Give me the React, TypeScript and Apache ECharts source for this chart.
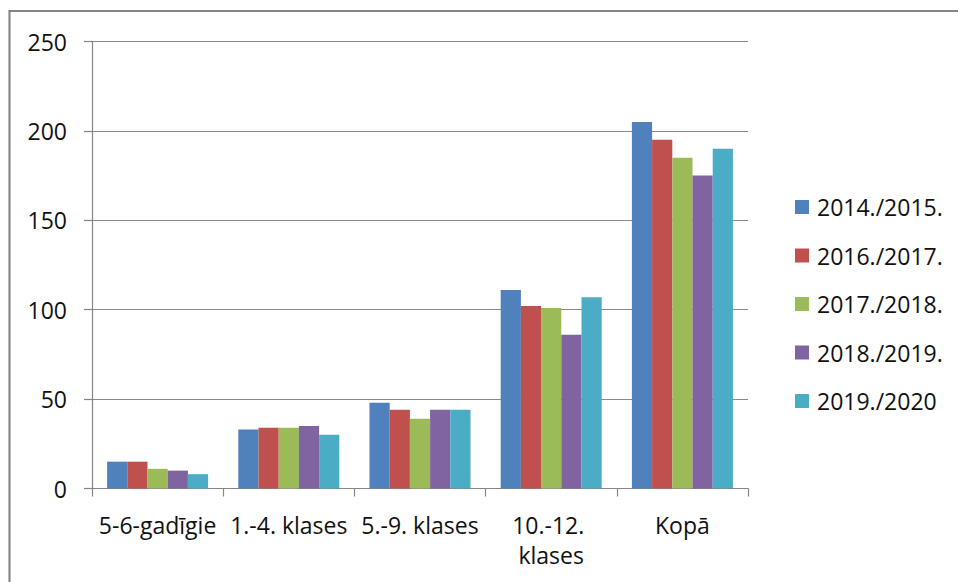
import React, { useEffect, useRef } from "react";
import * as echarts from "echarts";

const categories = ["5-6-gadīgie", "1.-4. klases", "5.-9. klases", "10.-12. klases", "Kopā"];
const seriesNames = ["2014./2015.", "2016./2017.", "2017./2018.", "2018./2019.", "2019./2020"];
const s2014 = [15, 33, 48, 111, 205];
const s2016 = [15, 34, 44, 102, 195];
const s2017 = [11, 34, 39, 101, 185];
const s2018 = [10, 35, 44, 86, 175];
const s2019 = [8, 30, 44, 107, 190];
const colors = ["#4F81BD", "#C0504D", "#9BBB59", "#8064A2", "#4BACC6"];
const yTicks = { min: 0, max: 250, interval: 50 };

export default function App() {
  const ref = useRef<HTMLDivElement>(null);
  useEffect(() => {
    if (!ref.current) return;
    const chart = echarts.init(ref.current, null, { renderer: "svg" });
    const data = [s2014, s2016, s2017, s2018, s2019];
    const font = "'Open Sans', 'Noto Sans', sans-serif";
    chart.setOption({
      animation: false,
      backgroundColor: "#ffffff",
      graphic: [
        {
          type: "rect",
          shape: { x: 9.5, y: 11, width: 2000, height: 2000 },
          style: { fill: "none", stroke: "#868686", lineWidth: 2.2 },
          silent: true,
        },
      ],
      grid: { left: 92, right: 210, top: 41.5, bottom: 93.5, containLabel: false },
      legend: {
        orient: "vertical",
        left: 790,
        top: 188,
        itemWidth: 14,
        itemHeight: 14,
        itemGap: 20.5,
        icon: "rect",
        textStyle: {
          fontFamily: font,
          fontSize: 23,
          color: "#111",
          lineHeight: 28,
          padding: [0, 0, 0, 3],
        },
        data: seriesNames,
      },
      xAxis: {
        type: "category",
        data: categories,
        axisLine: { show: true, lineStyle: { color: "#868686", width: 1.2 } },
        axisTick: { show: true, length: 8, lineStyle: { color: "#868686", width: 1.2 } },
        axisLabel: {
          interval: 0,
          margin: 21,
          fontFamily: font,
          fontSize: 23,
          color: "#111",
          lineHeight: 30,
          width: 140,
          overflow: "break",
        },
      },
      yAxis: {
        type: "value",
        min: yTicks.min,
        max: yTicks.max,
        interval: yTicks.interval,
        axisLine: { show: true, lineStyle: { color: "#868686", width: 1.2 } },
        axisTick: { show: true, length: 8, lineStyle: { color: "#868686", width: 1.2 } },
        splitLine: { show: true, lineStyle: { color: "#8a8a8a", width: 1.2 } },
        axisLabel: {
          margin: 25,
          fontFamily: font,
          fontSize: 23,
          color: "#111",
        },
      },
      series: seriesNames.map((name, i) => ({
        name,
        type: "bar",
        data: data[i],
        barGap: "0%",
        barCategoryGap: "23%",
        itemStyle: { color: colors[i] },
      })),
    });
    return () => chart.dispose();
  }, []);
  return (
    <div
      ref={ref}
      style={{ position: "fixed", left: 0, top: 0, width: 958, height: 582 }}
    />
  );
}
